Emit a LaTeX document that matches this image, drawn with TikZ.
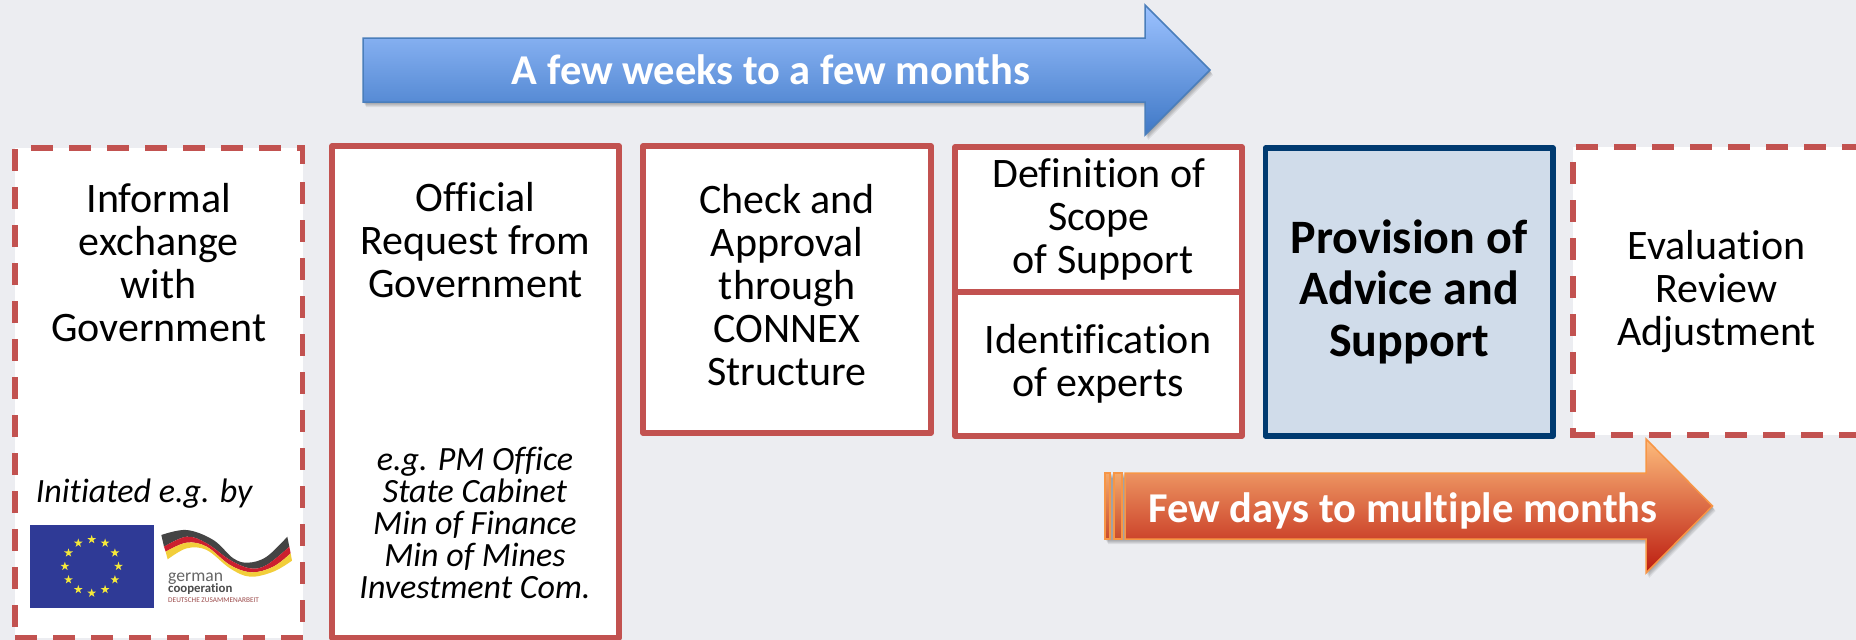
\documentclass[tikz,border=0pt]{standalone}
\usepackage{fontspec}
\setmainfont{Carlito}[Ligatures=CommonOff]
\definecolor{bgc}{HTML}{ECEDF1}
\definecolor{redc}{HTML}{C25250}
\definecolor{navyc}{HTML}{003A70}
\definecolor{lightc}{HTML}{D0DCEA}
\definecolor{blueL}{HTML}{4A7EBB}
\definecolor{blueT}{HTML}{9CC2FF}
\definecolor{blueM}{HTML}{82ADEE}
\definecolor{blueB}{HTML}{3F78C6}
\definecolor{orangeT}{HTML}{FDBC7C}
\definecolor{orangeM}{HTML}{EA9260}
\definecolor{orangeB}{HTML}{BC1C10}
\definecolor{orangeL}{HTML}{F79646}
\definecolor{stripT}{HTML}{F4A96C}
\definecolor{stripB}{HTML}{C84C2C}
\definecolor{starc}{HTML}{F5E93A}
\definecolor{euc}{HTML}{2F3A96}
\definecolor{gblack}{HTML}{444444}
\definecolor{gred}{HTML}{CC1F2F}
\definecolor{gyellow}{HTML}{F2CE3A}
\tikzset{
  x=1pt,y=-1pt,
  solidbox/.style={draw=redc,line width=5.5pt,fill=white,line join=round},
  navybox/.style={draw=navyc,line width=5.5pt,fill=lightc,line join=round},
  dashside/.style={draw=redc,line width=5.5pt,dash pattern=on 22pt off 16pt},
  cornerside/.style={draw=redc,line width=5.5pt,line join=miter},
  bodytext/.style={anchor=base,align=center,inner sep=0pt,font=\fontsize{42}{42.9}\selectfont},
  boldtext/.style={anchor=base,align=center,inner sep=0pt,font=\fontsize{48}{51.5}\selectfont\bfseries},
  smalltext/.style={anchor=base,align=center,inner sep=0pt,font=\fontsize{34}{32}\selectfont\itshape},
  arrowtext/.style={anchor=base,inner sep=0pt,text=white,font=\fontsize{42.5}{43}\selectfont\bfseries},
  bluearrow/.style={draw=blueL,line width=1.5pt,top color=blueT,middle color=blueM,bottom color=blueB,line join=miter},
  orangearrow/.style={draw=orangeL,line width=1.5pt,top color=orangeT,middle color=orangeM,bottom color=orangeB,line join=miter},
  orangestrip/.style={draw=orangeL,line width=1.2pt,top color=stripT,bottom color=stripB},
  softshadow/.style={fill=black,opacity=.07,draw=none},
  eustar/.style={fill=starc,draw=none},
  logotext/.style={anchor=base west,inner sep=0pt},
}
\begin{document}
\begin{tikzpicture}
\useasboundingbox (0,0) rectangle (1856,640);
\clip (0,0) rectangle (1856,640);
\fill[bgc] (0,0) rectangle (1856,640);

% Box 1 (dashed)
\fill[white] (15,148) rectangle (302.5,638);
\draw[dashside] (15,149) -- (15,638);
\draw[dashside] (15,638) -- (302.5,638);
\draw[dashside] (302.5,182) -- (302.5,622);
\draw[dashside] (31,148) -- (281,148);
\draw[cornerside] (297,148) -- (302.5,148) -- (302.5,164);
% Box 2
\path[solidbox] (332,146) rectangle (619,638);
% Box 3
\path[solidbox] (643,146) rectangle (931,433);
% Box 4
\path[solidbox] (955,147) rectangle (1242,436);
\draw[draw=redc,line width=5.5pt] (955,292) -- (1242,292);
% Box 5
\path[navybox] (1265.5,148) rectangle (1553,436);
% Box 6 (dashed, runs off the page)
\fill[white] (1573,147) rectangle (1860,435);
\draw[dashside] (1576,147) -- (1860,147);
\draw[dashside] (1573,162) -- (1573,428);
\draw[cornerside] (1573,428) -- (1573,435) -- (1595,435);
\draw[dashside] (1611,435) -- (1860,435);

% Blue arrow
\foreach \d in {1,2,3,4,5}{
  \path[softshadow] (363+\d*0.6,38+\d) -- (1145+\d*0.6,38+\d) -- (1145+\d*0.6,5+\d) -- (1210+\d*0.6,70+\d) -- (1145+\d*0.6,135+\d) -- (1145+\d*0.6,102+\d) -- (363+\d*0.6,102+\d) -- cycle;
}
\path[bluearrow] (363,38) -- (1145,38) -- (1145,5) -- (1210,70) -- (1145,135) -- (1145,102) -- (363,102) -- cycle;
\node[arrowtext] (bluetext) at (771,84) {A few weeks to a few months};

% Orange arrow
\foreach \d in {1,2,3,4,5}{
  \path[softshadow] (1105+\d*0.6,473+\d) -- (1646+\d*0.6,473+\d) -- (1646+\d*0.6,439+\d) -- (1712.5+\d*0.6,506+\d) -- (1646+\d*0.6,573+\d) -- (1646+\d*0.6,539+\d) -- (1105+\d*0.6,539+\d) -- cycle;
}
\path[orangestrip] (1105,473) rectangle (1110,539);
\path[orangestrip] (1114,473) rectangle (1122,539);
\path[orangearrow] (1125,473) -- (1646,473) -- (1646,439) -- (1712.5,506) -- (1646,573) -- (1646,539) -- (1125,539) -- cycle;
\node[arrowtext] (orangetext) at (1403,522) {Few days to multiple months};

% Texts (anchor=base sits on the last line)
\node[bodytext] (t1) at (158.7,341.5) {Informal\\exchange\\with\\Government};
\node[bodytext] (t2) at (475.5,297) {Official\\Request from\\Government};
\node[smalltext] (t2b) at (475,598.7) {e.g. PM Office\\State Cabinet\\Min of Finance\\Min of Mines\\Investment Com.};
\node[bodytext] (t3) at (787,385.5) {Check and\\Approval\\through\\CONNEX\\Structure};
\node[bodytext] (t4) at (1099,273) {Definition of\\Scope\\\hspace*{8pt}of Support};
\node[bodytext] (t4b) at (1098,396) {Identification\\of experts};
\node[boldtext] (t5) at (1409,356) {Provision of\\Advice and\\Support};
\node[bodytext] (t6) at (1716.6,345.5) {Evaluation\\Review\\Adjustment};
\node[smalltext,anchor=base west] (init) at (35.7,502.7) {Initiated e.g. by};

% EU flag
\fill[euc] (30,525) rectangle (154,608);
\foreach \a in {0,30,...,330}{
  \fill[eustar,shift={({91.7+26.8*cos(\a)},{566.3+26.8*sin(\a)})}]
    (-90:4.6) -- (54:4.6) -- (198:4.6) -- (342:4.6) -- (126:4.6) -- cycle;
}
% German cooperation ribbon
\begin{scope}[x=0.33333pt,y=-0.33333pt,shift={(0pt,-440pt)}]
\fill[gblack] plot[smooth,tension=.6] coordinates {(484,285)(560,270)(640,300)(700,355)(745,368)(800,350)(862,290)} -- plot[smooth,tension=.6] coordinates {(868,320)(800,375)(750,385)(690,360)(620,310)(560,290)(492,320)} -- cycle;
\fill[gred] plot[smooth,tension=.6] coordinates {(492,320)(560,290)(620,310)(690,360)(750,385)(800,375)(868,320)} -- plot[smooth,tension=.6] coordinates {(872,340)(820,380)(755,397)(690,375)(620,320)(560,308)(497,335)} -- cycle;
\fill[gyellow] plot[smooth,tension=.6] coordinates {(497,335)(560,308)(620,320)(690,375)(755,397)(820,380)(872,340)} -- plot[smooth,tension=.6] coordinates {(876,362)(820,395)(750,410)(690,385)(620,330)(560,325)(503,358)} -- cycle;
\end{scope}
\node[logotext,text=black!60,font=\fontsize{17.6}{17}\selectfont] (g1) at (168,581) {german};
\node[logotext,text=black!70,font=\fontsize{12.8}{12}\selectfont\bfseries] (g2) at (168,592) {cooperation};
\node[logotext,text=red!45!black!70,font=\fontsize{7.3}{7}\selectfont] (g3) at (168,602.7) {DEUTSCHE ZUSAMMENARBEIT};
\end{tikzpicture}
\end{document}
